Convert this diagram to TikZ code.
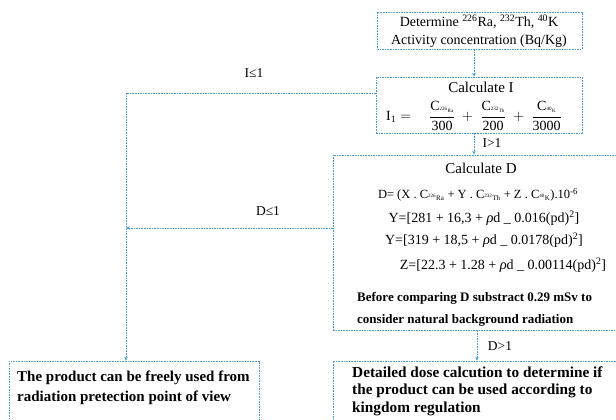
\documentclass[tikz,border=0pt]{standalone}
\usepackage{fontspec}
\usepackage{amsmath}
\setmainfont{Liberation Serif}
\usetikzlibrary{arrows.meta}
\definecolor{bl}{RGB}{70,160,215}
\newcommand\fsz[2]{\fontsize{#1}{#2}\selectfont}
\newcommand\subsc[1]{\textsubscript{\scriptsize #1}}
\newcommand\csub[1]{\text{C}_{\text{\tiny #1}}}
\begin{document}
\begin{tikzpicture}[x=1pt,y=-1pt,
  box/.style={draw=bl, dash pattern=on 1.6pt off 1pt, line width=0.6pt, rectangle, inner sep=0pt},
  arr/.style={draw=bl, line width=0.6pt, dash pattern=on 1.6pt off 1pt, -{Stealth[length=4pt,width=3.5pt]}},
  txt/.style={inner sep=0pt, text=black},
  lbl/.style={inner sep=0pt, text=black, font=\fsz{13.5}{15}},
  btxt/.style={inner sep=0pt, text=black, align=left, font=\fsz{15}{18}\bfseries}]
\clip (0,0) rectangle (616,420);
\useasboundingbox (0,0) rectangle (616,420);
% helper coordinates
\coordinate (cx1) at (474,0);
\coordinate (cx2) at (477,0);
\coordinate (lx) at (126,0);
\coordinate (ly) at (0,93);
\coordinate (dy) at (0,228);
% boxes
\node[box, minimum width=205pt, minimum height=37pt] (b1) at (479.5,30.5) {};
\node[box, minimum width=206pt, minimum height=56pt] (b2) at (479,105) {};
\node[box, minimum width=300pt, minimum height=175pt] (b3) at (483,242.5) {};
\node[box, minimum width=250pt, minimum height=70pt] (b4) at (134,396) {};
\node[box, minimum width=300pt, minimum height=70pt] (b5) at (483,396) {};
% box 1 text
\node[txt, align=center, font=\fsz{14}{18}] (t1) at (479,31)
  {Determine \textsuperscript{226}Ra, \textsuperscript{232}Th, \textsuperscript{40}K\\Activity concentration (Bq/Kg)};
% box 2 text
\node[txt, font=\fsz{15}{16}] (t2) at (481,87) {Calculate I};
\node[txt, font=\fsz{14}{16}] (f1) at (474,116)
  {$\text{I}_{\text{1}} = \quad \dfrac{\csub{\textsuperscript{226}Ra}}{\text{300}} \;+\; \dfrac{\csub{\textsuperscript{232}Th}}{\text{200}} \;+\; \dfrac{\csub{\textsuperscript{40}K}}{\text{3000}}$};
% box 3 text
\node[txt, font=\fsz{15}{16}] (t3) at (481,168) {Calculate D};
\node[txt, font=\fsz{12.5}{14}] (f2) at (478,195)
  {D= (X . C\subsc{\textsuperscript{226}Ra} + Y . C\subsc{\textsuperscript{232}Th} + Z . C\subsc{\textsuperscript{40}K}).10\textsuperscript{-6}};
\node[txt, font=\fsz{14}{16}] (f3) at (484,218)
  {Y=[281 + 16,3 + {\Large\itshape ρ}d \_ 0.016(pd)\textsuperscript{2}]};
\node[txt, font=\fsz{14}{16}] (f4) at (484,240)
  {Y=[319 + 18,5 + {\Large\itshape ρ}d \_ 0.0178(pd)\textsuperscript{2}]};
\node[txt, font=\fsz{14}{16}] (f5) at (503,265)
  {Z=[22.3 + 1.28 + {\Large\itshape ρ}d \_ 0.00114(pd)\textsuperscript{2}]};
\node[txt, anchor=west, align=left, font=\fsz{13}{22}\bfseries] (t4) at (357,309)
  {Before comparing D substract 0.29 mSv to\\consider natural background radiation};
% bottom boxes text
\node[btxt, anchor=west, font=\fsz{15}{20}\bfseries] (t5) at (17,388)
  {The product can be freely used from\\radiation pretection point of view};
\node[btxt, anchor=west, font=\fsz{15.3}{17.5}\bfseries] (t6) at (352,391)
  {Detailed dose calcution to determine if\\the product can be used according to\\kingdom regulation};
% connectors
\draw[arr] (b1.south -| cx1) -- (b2.north -| cx1);
\draw[arr] (b2.south -| cx1) -- (b3.north -| cx1);
\draw[arr] (b3.south -| cx2) -- (b5.north -| cx2);
\draw[arr] (b2.west |- ly) -| (b4.north -| lx);
\draw[arr] (b3.west |- dy) -- (lx |- dy);
% labels
\node[lbl] (l1) at (254,73) {I≤1};
\node[lbl] (l2) at (492,143) {I>1};
\node[lbl] (l3) at (268,211) {D≤1};
\node[lbl] (l4) at (500,346) {D>1};
\end{tikzpicture}
\end{document}
